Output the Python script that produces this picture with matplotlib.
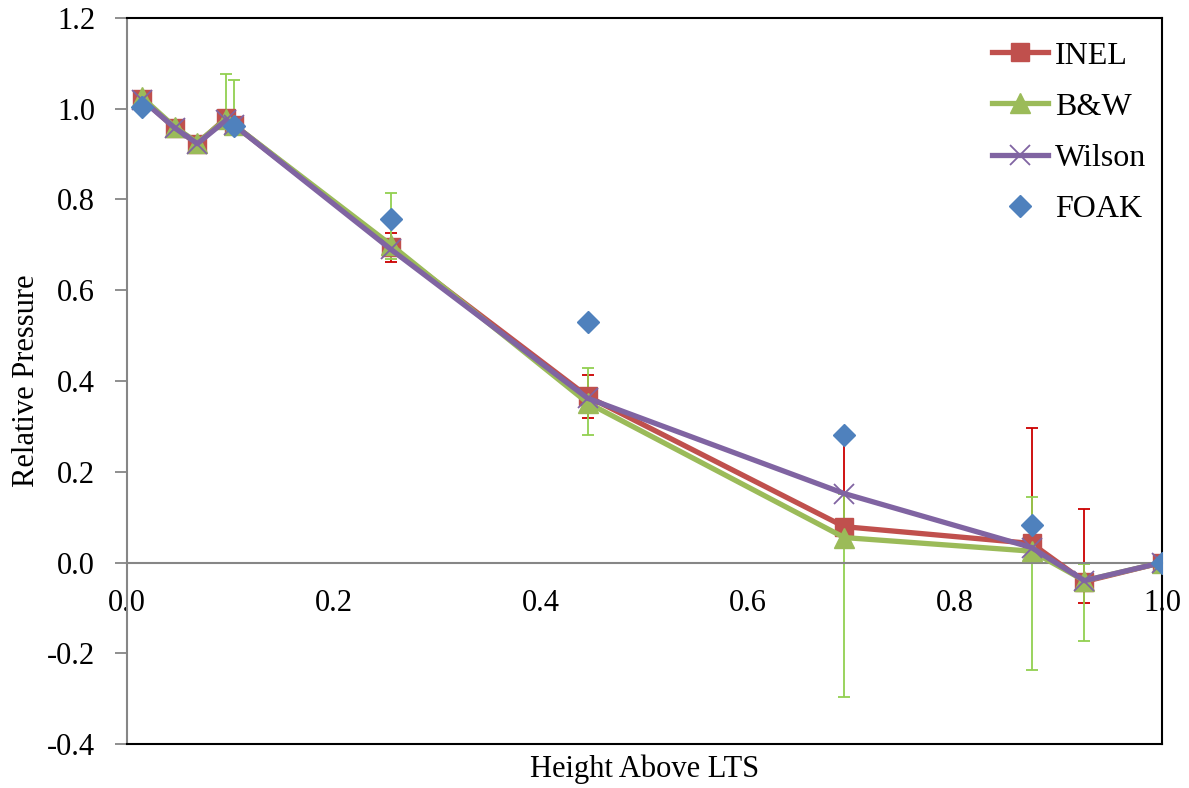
import matplotlib.pyplot as plt
import numpy as np

plt.rcParams['font.family'] = ['Liberation Serif', 'DejaVu Serif']
plt.rcParams['font.size'] = 22

# Height above LTS for each measurement station
height = [0.0145, 0.046, 0.068, 0.096, 0.103, 0.255, 0.445, 0.693, 0.874, 0.925, 1.0]

# Model predictions (relative pressure)
inel = [1.022, 0.958, 0.923, 0.980, 0.965, 0.695, 0.366, 0.079, 0.042, -0.042, 0.0]
bw = [1.025, 0.960, 0.925, 0.978, 0.965, 0.700, 0.352, 0.055, 0.025, -0.040, 0.0]
wilson = [1.020, 0.958, 0.923, 0.975, 0.965, 0.690, 0.362, 0.152, 0.033, -0.040, 0.0]

# FOAK measured points
foak_height = [0.0145, 0.103, 0.255, 0.445, 0.693, 0.874, 1.0]
foak = [1.003, 0.963, 0.756, 0.531, 0.282, 0.082, 0.0]

# Error bar ranges (index into height, low end, high end)
inel_bar_idx = [5, 6, 7, 8, 9]
inel_bar_lo = [0.663, 0.318, 0.079, 0.042, -0.090]
inel_bar_hi = [0.727, 0.414, 0.282, 0.297, 0.119]

bw_bar_idx = [3, 4, 5, 6, 7, 8, 9]
bw_bar_lo = [0.978, 0.965, 0.668, 0.282, -0.297, -0.236, -0.174]
bw_bar_hi = [1.077, 1.064, 0.815, 0.428, 0.150, 0.144, -0.004]

RED = '#C0504D'
GREEN = '#9BBB59'
PURPLE = '#8064A2'
BLUE = '#4F81BD'

fig = plt.figure(figsize=(11.89, 7.88), dpi=100)
ax = fig.add_axes([0.1068, 0.0558, 0.8705, 0.9214])

x = np.array(height)


def draw_bars(idx, lo, hi, series, color, z):
    xs = x[idx]
    ys = np.array(series)[idx]
    err = [ys - np.array(lo), np.array(hi) - ys]
    ax.errorbar(xs, ys, yerr=err, fmt='none', ecolor=color, elinewidth=1.3,
                capsize=4.5, capthick=1.3, zorder=z)


draw_bars(inel_bar_idx, inel_bar_lo, inel_bar_hi, inel, '#CC0000', 2)
draw_bars(bw_bar_idx, bw_bar_lo, bw_bar_hi, bw, '#92D050', 2.5)

ax.plot(height, inel, color=RED, lw=3.8, marker='s', ms=13, label='INEL', zorder=3)
ax.plot(height, bw, color=GREEN, lw=3.8, marker='^', ms=14, label='B&W', zorder=4)
ax.plot(height, wilson, color=PURPLE, lw=3.8, marker='x', ms=14, mew=1.3, label='Wilson', zorder=5)
ax.plot(foak_height, foak, ls='none', color=BLUE, marker='D', ms=11, label='FOAK', zorder=6)

ax.set_xlim(0, 1.0)
ax.set_ylim(-0.4, 1.2)
ax.set_xticks(np.arange(0, 1.01, 0.2))
ax.set_yticks(np.arange(-0.4, 1.21, 0.2))
ax.xaxis.set_major_formatter(plt.FormatStrFormatter('%.1f'))
ax.yaxis.set_major_formatter(plt.FormatStrFormatter('%.1f'))

# x axis crosses at zero, grey like the y axis; plot box drawn in black
ax.spines['bottom'].set_position(('data', 0))
ax.spines['bottom'].set_color('#868686')
ax.spines['bottom'].set_linewidth(1.5)
ax.spines['left'].set_color('#868686')
ax.spines['left'].set_linewidth(1.5)
for side in ['top', 'right']:
    ax.spines[side].set_color('black')
    ax.spines[side].set_linewidth(1.5)
ax.plot([0, 1], [0, 0], transform=ax.transAxes, color='black', lw=1.5,
        clip_on=False, zorder=10)

ax.tick_params(axis='y', direction='out', length=9, width=1.3, color='#868686', pad=14)
ax.tick_params(axis='x', direction='out', length=0, pad=19)

ax.set_xlabel('Height Above LTS', labelpad=0)
ax.xaxis.set_label_coords(0.5, -0.014)
ax.set_ylabel('Relative Pressure')
ax.yaxis.set_label_coords(-0.083, 0.5)

ax.legend(loc='upper right', bbox_to_anchor=(1.0, 0.99), frameon=False,
          fontsize=23, handlelength=1.75, handletextpad=0.2, labelspacing=0.68,
          borderaxespad=0.1, numpoints=1)

fig.savefig('out.png', dpi=100)
